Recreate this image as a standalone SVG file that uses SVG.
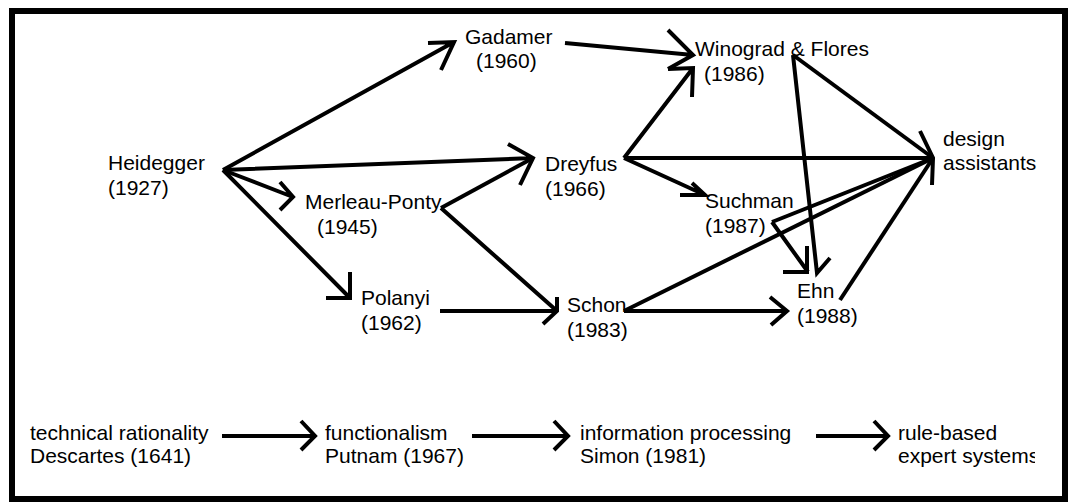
<svg xmlns="http://www.w3.org/2000/svg" width="1068" height="502" viewBox="0 0 1068 502">
<style>
text{font-family:"Liberation Sans",Arial,sans-serif;font-size:21px;fill:#000}
.c{fill:none;stroke:#000;stroke-width:4;stroke-linecap:butt;stroke-linejoin:miter}
.frame{fill:#fff;stroke:#000;stroke-width:6}
</style>
<defs>
<clipPath id="clipRule"><rect x="880" y="400" width="155" height="80"/></clipPath>
</defs>
<rect class="frame" x="12" y="11" width="1053" height="488"/>
<g id="connectors">
<path class="c" d="M223,170 L454,42 M428,43 L454,42 L441,70"/>
<path class="c" d="M223,170 L533,158 M508,144 L533,158 L520,185"/>
<path class="c" d="M223,170 L293,197 M280,182 L293,197 L280,210"/>
<path class="c" d="M223,170 L350,298 M350,272 L350,298 L326,298"/>
<path class="c" d="M441,208 L533,158"/>
<path class="c" d="M441,208 L557,311 M557,297 L557,311 L543,324"/>
<path class="c" d="M440,311 L557,311"/>
<path class="c" d="M565,43 L693,55 M668,30 L693,55 L668,69"/>
<path class="c" d="M624,158 L693,68 M668,69 L693,68 L692,97"/>
<path class="c" d="M624,158 L933,158 M920,131 L933,158 L932,185"/>
<path class="c" d="M624,158 L705,195 M692,183 L705,195 L680,195"/>
<path class="c" d="M793,55 L933,158"/>
<path class="c" d="M793,55 L817,273 L830,258"/>
<path class="c" d="M772,222 L933,158"/>
<path class="c" d="M772,222 L808,272 M807,246 L807,272 L783,272"/>
<path class="c" d="M624,311 L933,158"/>
<path class="c" d="M624,311 L787,311 M770,297 L787,311 L771,325"/>
<path class="c" d="M840,300 L933,158"/>
<path class="c" d="M222,436 L315,436 M301,421 L315,436 L301,450"/>
<path class="c" d="M472,436 L568,436 M554,421 L568,436 L554,450"/>
<path class="c" d="M816,436 L888,436 M874,421 L888,436 L874,450"/>
</g>
<g id="heidegger"><text x="108" y="170">Heidegger</text><text x="108" y="195">(1927)</text></g>
<g id="gadamer"><text x="465" y="44">Gadamer</text><text x="476" y="68">(1960)</text></g>
<g id="winograd-flores"><text x="695" y="56">Winograd &amp; Flores</text><text x="704" y="81">(1986)</text></g>
<g id="design-assistants"><text x="943" y="146">design</text><text x="943" y="170">assistants</text></g>
<g id="merleau-ponty"><text x="305" y="209">Merleau-Ponty</text><text x="317" y="234">(1945)</text></g>
<g id="dreyfus"><text x="545" y="171">Dreyfus</text><text x="545" y="196">(1966)</text></g>
<g id="suchman"><text x="705" y="208">Suchman</text><text x="705" y="233">(1987)</text></g>
<g id="polanyi"><text x="361" y="305">Polanyi</text><text x="361" y="330">(1962)</text></g>
<g id="schon"><text x="567" y="312">Schon</text><text x="567" y="337">(1983)</text></g>
<g id="ehn"><text x="797" y="298">Ehn</text><text x="797" y="323">(1988)</text></g>
<g id="technical-rationality"><text x="30" y="440">technical rationality</text><text x="30" y="463">Descartes (1641)</text></g>
<g id="functionalism"><text x="325" y="440">functionalism</text><text x="325" y="463">Putnam (1967)</text></g>
<g id="information-processing"><text x="580" y="440">information processing</text><text x="580" y="463">Simon (1981)</text></g>
<g id="rule-based" clip-path="url(#clipRule)"><text x="898" y="440">rule-based</text><text x="898" y="463">expert systems</text></g>
</svg>
